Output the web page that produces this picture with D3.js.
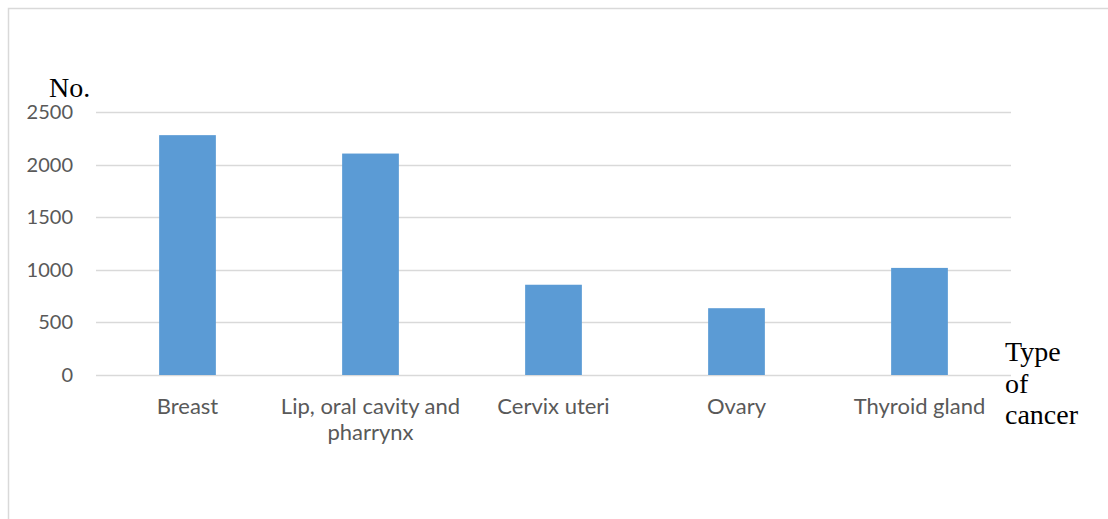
<!DOCTYPE html>
<html>
<head>
<meta charset="utf-8">
<script src="https://cdn.jsdelivr.net/npm/d3@7"></script>
<style>
  body { margin: 0; background: #fff; }
  svg { display: block; }
</style>
</head>
<body>
<div id="chart"></div>
<script>
var categories = [["Breast"], ["Lip, oral cavity and", "pharrynx"], ["Cervix uteri"], ["Ovary"], ["Thyroid gland"]];
var values = [2280, 2105, 858, 635, 1018];
var yTicks = [0, 500, 1000, 1500, 2000, 2500];

var width = 1108, height = 519;
var margin = {top: 112, left: 96, right: 97, bottom: 144};
var w = width - margin.left - margin.right;
var h = height - margin.top - margin.bottom;

var svg = d3.select("#chart").append("svg")
    .attr("width", width)
    .attr("height", height);

// chart frame (cut off on right/bottom)
svg.append("path")
    .attr("d", "M8.5,519 L8.5,8.5 L1108,8.5")
    .attr("fill", "none")
    .attr("stroke", "#d9d9d9")
    .attr("stroke-width", 1.5);

var x = d3.scaleBand()
    .domain(d3.range(categories.length))
    .range([margin.left, margin.left + w])
    .paddingInner(0.69)
    .paddingOuter(0.345);

var y = d3.scaleLinear()
    .domain([0, 2500])
    .range([margin.top + h, margin.top]);

// grid lines
svg.append("g").selectAll("line")
    .data(yTicks)
  .enter().append("line")
    .attr("x1", margin.left)
    .attr("x2", margin.left + w)
    .attr("y1", function (d) { return Math.round(y(d)) + 0.5; })
    .attr("y2", function (d) { return Math.round(y(d)) + 0.5; })
    .attr("stroke", "#d9d9d9")
    .attr("stroke-width", 1.5);

// y tick labels
svg.append("g").selectAll("text")
    .data(yTicks)
  .enter().append("text")
    .attr("x", 73)
    .attr("y", function (d) { return y(d) + 7; })
    .attr("text-anchor", "end")
    .attr("font-family", "Lato, 'Open Sans', sans-serif")
    .attr("font-size", "20px")
    .attr("fill", "#595959")
    .text(function (d) { return d; });

// bars
svg.append("g").selectAll("rect")
    .data(values)
  .enter().append("rect")
    .attr("x", function (d, i) { return x(i); })
    .attr("width", x.bandwidth())
    .attr("y", function (d) { return y(d); })
    .attr("height", function (d) { return y(0) - y(d); })
    .attr("fill", "#5b9bd5");

// category labels
var lab = svg.append("g").selectAll("text")
    .data(categories)
  .enter().append("text")
    .attr("x", function (d, i) { return x(i) + x.bandwidth() / 2; })
    .attr("y", 414)
    .attr("text-anchor", "middle")
    .attr("font-family", "Lato, 'Open Sans', sans-serif")
    .attr("font-size", "22px")
    .attr("fill", "#595959");
lab.selectAll("tspan")
    .data(function (d) { return d; })
  .enter().append("tspan")
    .attr("x", function () { return d3.select(this.parentNode).attr("x"); })
    .attr("dy", function (d, i) { return i ? 26 : 0; })
    .text(function (d) { return d; });

// axis titles
svg.append("text")
    .attr("x", 49)
    .attr("y", 97)
    .attr("font-family", "'Liberation Serif', 'Times New Roman', serif")
    .attr("font-size", "28px")
    .attr("fill", "#000")
    .text("No.");

var xt = svg.append("text")
    .attr("x", 1005)
    .attr("y", 361)
    .attr("font-family", "'Liberation Serif', 'Times New Roman', serif")
    .attr("font-size", "28px")
    .attr("fill", "#000");
["Type", "of", "cancer"].forEach(function (t, i) {
  xt.append("tspan").attr("x", 1005).attr("dy", i ? 31.5 : 0).text(t);
});
</script>
</body>
</html>
